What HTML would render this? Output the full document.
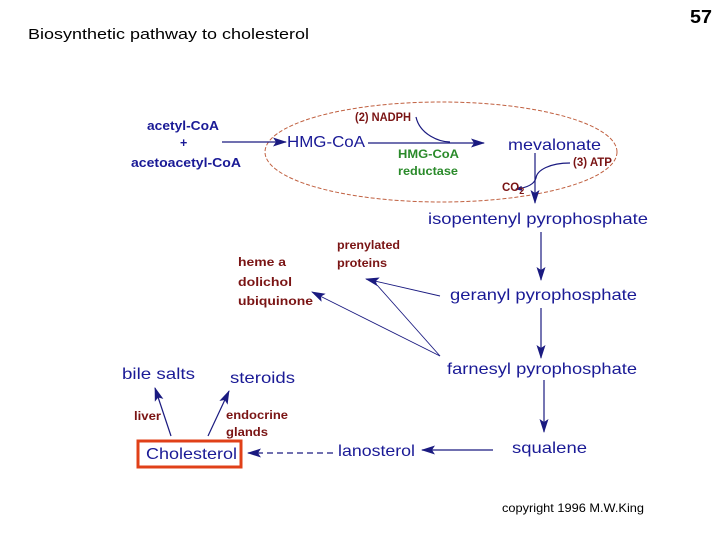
<!DOCTYPE html>
<html><head><meta charset="utf-8"><style>
html,body{margin:0;padding:0;background:#fff;width:720px;height:540px;overflow:hidden}
svg{display:block}
text{font-family:"Liberation Sans",Arial,sans-serif}
.b{fill:#1a1a96}
.r{fill:#7a1414;font-weight:bold;font-size:11.5px}
</style></head><body>
<svg width="720" height="540" viewBox="0 0 720 540">
<defs>
<marker id="a" markerWidth="14" markerHeight="9" refX="13" refY="4.5" orient="auto" markerUnits="userSpaceOnUse">
<path d="M0,0 L14,4.5 L0,9 L3,4.5 Z" fill="#1a1a80"/></marker>
<marker id="s" markerWidth="7" markerHeight="5" refX="6" refY="2.5" orient="auto" markerUnits="userSpaceOnUse">
<path d="M0,0 L7,2.5 L0,5 Z" fill="#1a1a80"/></marker>
</defs>
<text x="28" y="39" font-size="15" fill="#000" textLength="281" lengthAdjust="spacingAndGlyphs">Biosynthetic pathway to cholesterol</text>
<text x="690" y="23" font-size="18" font-weight="bold" fill="#000" textLength="22" lengthAdjust="spacingAndGlyphs">57</text>

<ellipse cx="441" cy="152" rx="176" ry="50" fill="none" stroke="#c06040" stroke-width="1" stroke-dasharray="4,2"/>

<g class="b" font-weight="bold" font-size="12.5">
<text x="147" y="130" textLength="72" lengthAdjust="spacingAndGlyphs">acetyl-CoA</text>
<text x="180" y="147">+</text>
<text x="131" y="167" textLength="110" lengthAdjust="spacingAndGlyphs">acetoacetyl-CoA</text>
</g>
<g stroke="#1a1a80" stroke-width="1.2" fill="none">
<line x1="222" y1="142" x2="286" y2="142" marker-end="url(#a)"/>
<line x1="368" y1="143" x2="484" y2="143" marker-end="url(#a)"/>
<path d="M416,117 C420,135 440,142 450,142"/>
<line x1="535" y1="153" x2="535" y2="203" marker-end="url(#a)"/>
<path d="M570,163 C550,163 537,170 536,178 C534,185 525,188 516,189" marker-end="url(#s)"/>
<line x1="541" y1="232" x2="541" y2="280" marker-end="url(#a)"/>
<line x1="541" y1="308" x2="541" y2="358" marker-end="url(#a)"/>
<line x1="544" y1="380" x2="544" y2="432" marker-end="url(#a)"/>
<line x1="493" y1="450" x2="422" y2="450" marker-end="url(#a)"/>
<line x1="333" y1="453" x2="248" y2="453" stroke-dasharray="6,4" marker-end="url(#a)"/>
<line x1="171" y1="436" x2="155" y2="388" marker-end="url(#a)"/>
<line x1="208" y1="436" x2="229" y2="391" marker-end="url(#a)"/>
</g>
<g stroke="#1a1a80" stroke-width="0.9" fill="none">
<line x1="440" y1="296" x2="366" y2="279" marker-end="url(#a)"/>
<line x1="440" y1="356" x2="377" y2="285"/>
<line x1="440" y1="356" x2="312" y2="292" marker-end="url(#a)"/>
</g>

<g class="b" font-size="16">
<text x="287" y="147" textLength="78" lengthAdjust="spacingAndGlyphs">HMG-CoA</text>
<text x="508" y="150" textLength="93" lengthAdjust="spacingAndGlyphs">mevalonate</text>
<text x="428" y="224" textLength="220" lengthAdjust="spacingAndGlyphs">isopentenyl pyrophosphate</text>
<text x="450" y="300" textLength="187" lengthAdjust="spacingAndGlyphs">geranyl pyrophosphate</text>
<text x="447" y="374" textLength="190" lengthAdjust="spacingAndGlyphs">farnesyl pyrophosphate</text>
<text x="512" y="453" textLength="75" lengthAdjust="spacingAndGlyphs">squalene</text>
<text x="338" y="456" textLength="77" lengthAdjust="spacingAndGlyphs">lanosterol</text>
<text x="122" y="379" textLength="73" lengthAdjust="spacingAndGlyphs">bile salts</text>
<text x="230" y="383" textLength="65" lengthAdjust="spacingAndGlyphs">steroids</text>
<text x="146" y="459" textLength="91" lengthAdjust="spacingAndGlyphs">Cholesterol</text>
</g>
<rect x="138" y="441" width="103" height="26" fill="none" stroke="#e04018" stroke-width="3"/>

<text class="r" x="355" y="121" textLength="56" lengthAdjust="spacingAndGlyphs">(2) NADPH</text>
<text class="r" x="573" y="166" textLength="39" lengthAdjust="spacingAndGlyphs">(3) ATP</text>
<text class="r" x="502" y="191">CO<tspan font-size="9" dy="3">2</tspan></text>
<text x="398" y="158" font-size="11.5" font-weight="bold" fill="#2a8a2a" textLength="61" lengthAdjust="spacingAndGlyphs">HMG-CoA</text>
<text x="398" y="175" font-size="11.5" font-weight="bold" fill="#2a8a2a" textLength="60" lengthAdjust="spacingAndGlyphs">reductase</text>
<text class="r" x="337" y="249" textLength="63" lengthAdjust="spacingAndGlyphs">prenylated</text>
<text class="r" x="337" y="267" textLength="50" lengthAdjust="spacingAndGlyphs">proteins</text>
<text class="r" x="238" y="266" textLength="48" lengthAdjust="spacingAndGlyphs">heme a</text>
<text class="r" x="238" y="286" textLength="54" lengthAdjust="spacingAndGlyphs">dolichol</text>
<text class="r" x="238" y="305" textLength="75" lengthAdjust="spacingAndGlyphs">ubiquinone</text>
<text class="r" x="134" y="420" textLength="27" lengthAdjust="spacingAndGlyphs">liver</text>
<text class="r" x="226" y="419" textLength="62" lengthAdjust="spacingAndGlyphs">endocrine</text>
<text class="r" x="226" y="436" textLength="42" lengthAdjust="spacingAndGlyphs">glands</text>
<text x="502" y="512" font-size="12" fill="#000" textLength="142" lengthAdjust="spacingAndGlyphs">copyright 1996 M.W.King</text>
</svg>
</body></html>
